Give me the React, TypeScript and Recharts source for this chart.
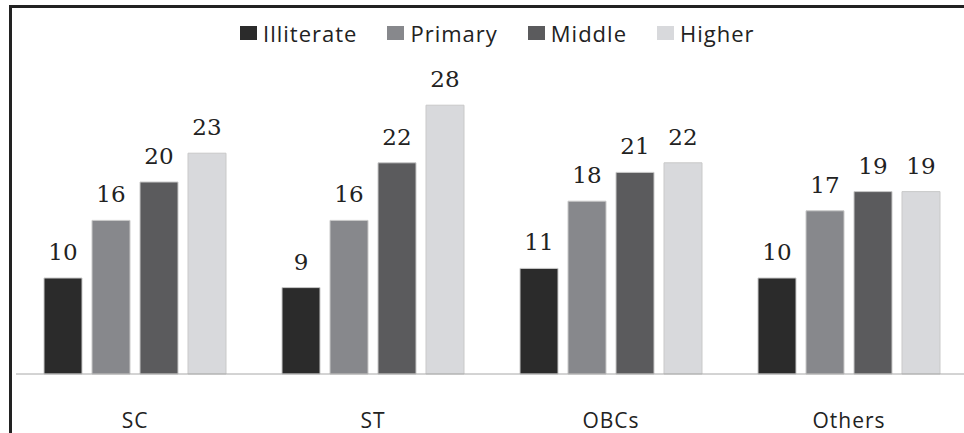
import { BarChart, Bar, XAxis, YAxis, LabelList } from 'recharts';

const categories = ['SC', 'ST', 'OBCs', 'Others'];
const illiterate = [10, 9, 11, 10];
const primary = [16, 16, 18, 17];
const middle = [20, 22, 21, 19];
const higher = [23, 28, 22, 19];

const seriesNames = ['Illiterate', 'Primary', 'Middle', 'Higher'];
const seriesColors = ['#2b2b2b', '#87888c', '#5b5b5d', '#d8d9dc'];

const data = categories.map((c, i) => ({
  name: c,
  Illiterate: illiterate[i],
  Primary: primary[i],
  Middle: middle[i],
  Higher: higher[i],
}));

const LegendBox = () => (
  <div
    style={{
      position: 'absolute',
      top: 19,
      left: 240,
      display: 'flex',
      fontFamily: '"Open Sans", sans-serif',
      fontSize: 22,
      letterSpacing: 1,
      color: '#222',
      lineHeight: '28px',
      zIndex: 2,
    }}
  >
    {seriesNames.map((n, i) => (
      <div key={n} style={{ display: 'flex', alignItems: 'center', marginRight: 30 }}>
        <span
          style={{
            display: 'inline-block',
            width: 17,
            height: 14,
            background: seriesColors[i],
            marginRight: 6,
          }}
        />
        {n}
      </div>
    ))}
  </div>
);

export default function App() {
  return (
    <div
      style={{
        position: 'absolute',
        left: 0,
        top: 0,
        width: 964,
        height: 433,
        overflow: 'hidden',
        background: '#fff',
      }}
    >
      <div
        style={{
          position: 'absolute',
          left: 9,
          top: 5,
          width: 960,
          height: 3,
          background: '#222',
          zIndex: 3,
        }}
      />
      <div
        style={{
          position: 'absolute',
          left: 9,
          top: 5,
          width: 3,
          height: 430,
          background: '#222',
          zIndex: 3,
        }}
      />
      <LegendBox />
      <BarChart
        width={984}
        height={433}
        data={data}
        margin={{ top: 86, right: 16, bottom: 29, left: 16 }}
        barCategoryGap={28}
        barGap={10}
      >
        <XAxis
          dataKey="name"
          axisLine={{ stroke: '#a8a8a8', strokeWidth: 1 }}
          tickLine={false}
          height={30}
          tickMargin={33}
          tick={{ fill: '#222', fontSize: 21, letterSpacing: 1, fontFamily: '"Open Sans", sans-serif' }}
        />
        <YAxis hide domain={[0, 30]} />
        {seriesNames.map((n, i) => (
          <Bar
            key={n}
            dataKey={n}
            fill={seriesColors[i]}
            stroke="#c9c9c9"
            strokeWidth={1}
            isAnimationActive={false}
          >
            <LabelList
              dataKey={n}
              position="top"
              offset={18}
              fill="#222"
              fontSize={23}
              fontFamily='"DejaVu Serif", serif'
            />
          </Bar>
        ))}
      </BarChart>
    </div>
  );
}
